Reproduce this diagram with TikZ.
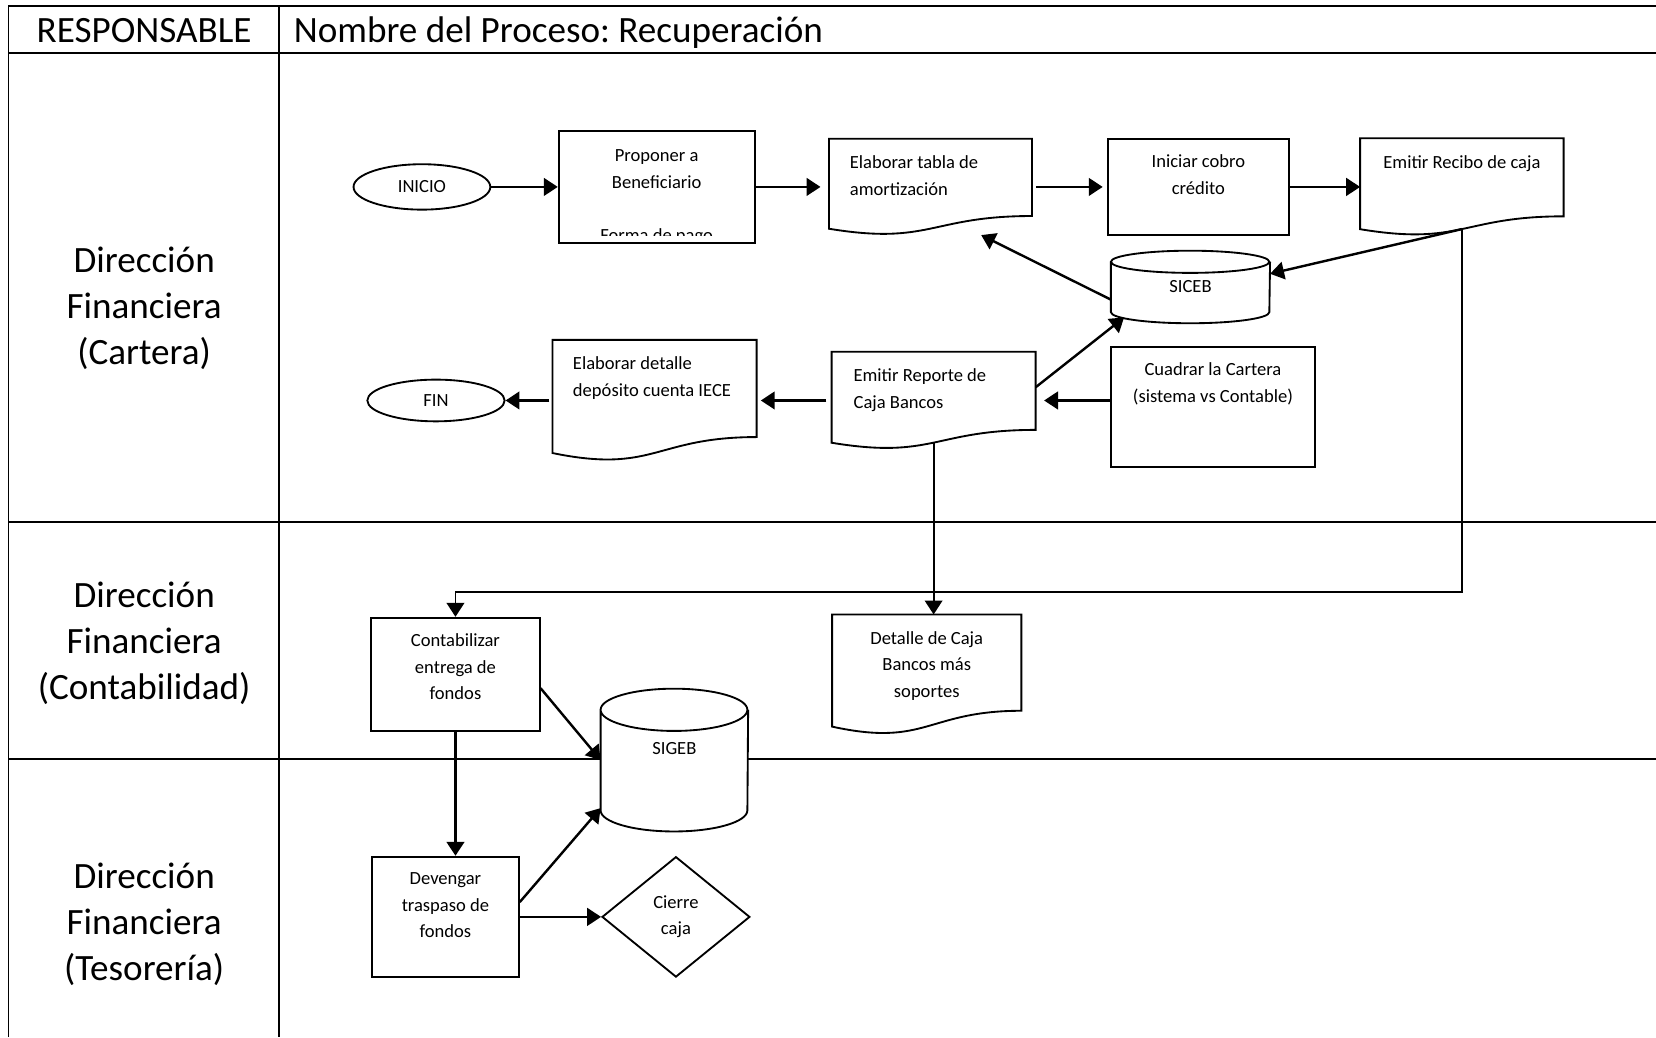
\documentclass[tikz,border=0pt]{standalone}
\usepackage{fontspec}
\setmainfont{Carlito}
\usetikzlibrary{positioning,calc,arrows.meta,shapes.geometric}
\frenchspacing

\tikzset{
  proc/.style={draw, rectangle, line width=1pt, fill=white, inner sep=0pt},
  docbox/.style={rectangle, inner sep=0pt},
  dbase/.style={rectangle, inner sep=0pt},
  term/.style={draw, ellipse, line width=1pt, fill=white, inner sep=0pt},
  decision/.style={draw, diamond, line width=1pt, fill=white, inner sep=0pt, align=center},
  lbl/.style={anchor=north, inner sep=0pt, yshift=-9pt, align=center},
  lane/.style={font=\fontsize{20}{24.7}\selectfont, align=center},
  arr/.style={-{Triangle[length=7.5pt,width=9.5pt]}, line width=1.3pt},
}

\begin{document}
\begin{tikzpicture}[font=\fontsize{10}{14.2}\selectfont]
  \fill[white] (0,0) rectangle (31.36,-19.64);
  \useasboundingbox (0,0) rectangle (31.36,-19.64);

  % tabla de responsables
  \draw[line width=1pt] (0.16,-19.64) -- (0.16,-0.11) -- (31.36,-0.11);
  \draw[line width=1pt] (5.29,-0.11) -- (5.29,-19.64);
  \foreach \y in {-1.0,-9.88,-14.38}
    \draw[line width=1pt] (0.16,\y) -- (31.36,\y);

  \node[lane, anchor=base] (resp) at (2.73,-0.8) {RESPONSABLE};
  \node[lane, anchor=base west] (proceso) at (5.44,-0.8) {Nombre del Proceso: Recuperación};
  \node[lane] (cartera) at (2.73,-5.84) {Dirección\\Financiera\\(Cartera)};
  \node[lane] (contabilidad) at (2.73,-12.18) {Dirección\\Financiera\\(Contabilidad)};
  \node[lane] (tesoreria) at (2.73,-17.5) {Dirección\\Financiera\\(Tesorería)};

  % cartera
  \node[term, minimum width=2.59cm, minimum height=0.86cm] (inicio) at (7.99,-3.54) {INICIO};
  \node[proc, minimum width=3.71cm, minimum height=2.13cm, right=1.26cm of inicio,
    path picture={\clip (path picture bounding box.north west) rectangle ([yshift=0.15cm]path picture bounding box.south east);
      \node[lbl, yshift=0.14cm] at (path picture bounding box.north) {Proponer a\\Beneficiario\\[14.2pt]Forma de pago};}] (prop) {};
  \node[docbox, minimum width=3.83cm, minimum height=1.81cm, right=1.39cm of prop,
    label={[lbl, anchor=north west, xshift=0.39cm, align=left]north west:Elaborar tabla de\\amortización}] (tabla) {};
  \node[proc, minimum width=3.43cm, minimum height=1.82cm, right=1.42cm of tabla,
    label={[lbl]north:Iniciar cobro\\crédito}] (iniciar) {};
  \node[docbox, minimum width=3.84cm, minimum height=1.83cm, right=1.33cm of iniciar,
    label={[lbl]north:Emitir Recibo de caja}] (recibo) {};
  \node[dbase, minimum width=3.0cm, minimum height=1.36cm, below=0.28cm of iniciar, xshift=-0.15cm] (siceb) {SICEB};

  \node[docbox, minimum width=3.85cm, minimum height=1.83cm, below=2.21cm of tabla, xshift=0.06cm,
    label={[lbl, anchor=north west, xshift=0.41cm, align=left]north west:Emitir Reporte de\\Caja Bancos}] (reporte) {};
  \node[docbox, minimum width=3.85cm, minimum height=2.28cm, left=1.42cm of reporte,
    label={[lbl, anchor=north west, xshift=0.38cm, align=left]north west:Elaborar detalle\\depósito cuenta IECE}] (deposito) {};
  \node[term, minimum width=2.6cm, minimum height=0.79cm, left=0.89cm of deposito] (fin) {FIN};
  \node[proc, minimum width=3.86cm, minimum height=2.28cm, right=1.41cm of reporte, yshift=-0.12cm,
    label={[lbl]north:Cuadrar la Cartera\\(sistema vs Contable)}] (cuadrar) {};

  % contabilidad y tesoreria
  \node[docbox, minimum width=3.57cm, minimum height=2.26cm, below=3.13cm of reporte, xshift=-0.13cm,
    label={[lbl]north:Detalle de Caja\\Bancos más\\soportes}] (detalle) {};
  \node[proc, minimum width=3.19cm, minimum height=2.15cm, left=5.52cm of detalle,
    label={[lbl]north:Contabilizar\\entrega de\\fondos}] (contab) {};
  \node[proc, minimum width=2.78cm, minimum height=2.28cm, below=2.34cm of contab, xshift=-0.19cm,
    label={[lbl]north:Devengar\\traspaso de\\fondos}] (deveng) {};
  \node[decision, minimum width=2.8cm, minimum height=2.28cm, right=1.54cm of deveng] (cierre) {Cierre\\caja};
  \node[dbase, fill=white, minimum width=2.78cm, minimum height=2.69cm, above=0.46cm of cierre, xshift=-0.03cm,
    label={[lbl, yshift=-0.69cm]north:SIGEB}] (sigeb) {};

  % documentos y bases de datos
  \foreach \docname in {tabla,recibo,reporte,deposito,detalle}{
    \draw[line width=1pt] (\docname.north west) -- (\docname.north east)
      -- ($(\docname.south east)!0.198!(\docname.north east)$)
      .. controls ($(\docname.south)!0.198!(\docname.north)$) and ($(\docname.south)!-0.107!(\docname.north)$)
      .. ($(\docname.south west)!0.066!(\docname.north west)$) -- cycle;
    \coordinate (\docname-wave) at ($(\docname.south)!0.067!(\docname.north)$);
  }
  \foreach \dbname/\rx/\ry in {siceb/1.5cm/0.21cm, sigeb/1.39cm/0.4cm}{
    \draw[line width=1pt] ([yshift=-\ry]\dbname.north west)
      arc[start angle=180, end angle=540, x radius=\rx, y radius=\ry]
      -- ([yshift=\ry]\dbname.south west)
      arc[start angle=180, end angle=360, x radius=\rx, y radius=\ry]
      -- ([yshift=-\ry]\dbname.north east);
  }

  % flujo
  \draw[arr] (inicio) -- (prop);
  \draw[arr, shorten >=0.16cm] (prop) -- (tabla);
  \draw[arr, shorten <=0.08cm, shorten >=0.08cm] (tabla) -- (iniciar);
  \draw[arr] (iniciar) -- (recibo);
  \draw[arr] (recibo-wave) -- ([yshift=0.25cm]siceb.east);
  \draw[arr] ([yshift=-0.24cm]siceb.west) -- ($(tabla.south east)!0.25!(tabla.south west)$);
  \draw[arr] ([yshift=0.25cm]reporte.east) -- ([xshift=0.25cm,yshift=0.11cm]siceb.south west);
  \draw[arr, shorten >=0.16cm] (cuadrar.west |- reporte.east) -- (reporte.east);
  \draw[arr, shorten <=0.1cm, shorten >=0.08cm] (reporte) -- (deposito);
  \draw[arr, shorten <=0.06cm] (deposito) -- (fin);
  \draw[arr, line width=1pt] (reporte-wave) -- (reporte-wave |- detalle.north);
  \coordinate[above=0.47cm of contab.north] (turn);
  \draw[arr, line width=1pt] (recibo-wave) |- (turn) -- (contab.north);
  \draw[arr] ([yshift=-0.26cm]contab.east) -- (sigeb.west);
  \draw[arr] (contab) -- (contab |- deveng.north);
  \draw[arr] ([yshift=0.28cm]deveng.east) -- ([yshift=-0.91cm]sigeb.west);
  \draw[arr] (deveng) -- (cierre);
\end{tikzpicture}
\end{document}
